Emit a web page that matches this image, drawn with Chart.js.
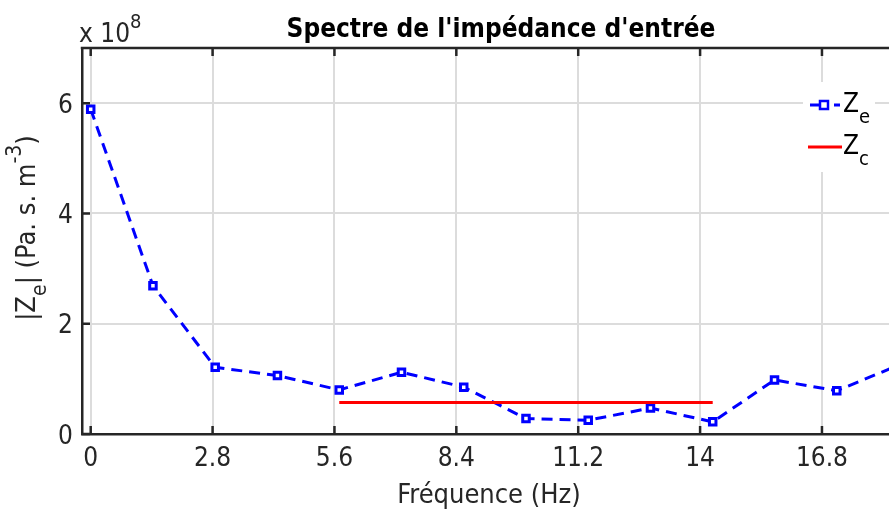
<!DOCTYPE html>
<html>
<head>
<meta charset="utf-8">
<title>Spectre de l'impédance d'entrée</title>
<script src="https://cdn.jsdelivr.net/npm/chart.js@4.4.1/dist/chart.umd.min.js"></script>
<style>
  html, body { margin: 0; padding: 0; background: #fff; overflow: hidden; }
  canvas { display: block; }
</style>
</head>
<body>
<canvas id="spectre" width="889" height="509"></canvas>
<script>
// input impedance spectrum |Ze| and the characteristic impedance Zc
const freqHz = [0, 1.43, 2.86, 4.29, 5.71, 7.14, 8.57, 10.0, 11.43, 12.86, 14.29, 15.71, 17.14, 18.57];
const zeMag  = [5.89e8, 2.69e8, 1.21e8, 1.06e8, 0.80e8, 1.12e8, 0.85e8, 0.28e8, 0.25e8, 0.47e8, 0.22e8, 0.98e8, 0.785e8, 1.25e8];
const zcFreq = [5.71, 14.29];
const zcMag  = [0.573e8, 0.573e8];
const xTicks = [0, 2.8, 5.6, 8.4, 11.2, 14, 16.8];
const yTicks = [0, 2e8, 4e8, 6e8];

const FONT = '"DejaVu Sans Condensed", "DejaVu Sans", sans-serif';
const INK = '#262626';
const BLUE = '#0000ff';
const RED = '#ff0000';

Chart.defaults.font.family = FONT;
Chart.defaults.color = INK;

// draws text with sub/superscript runs: parts = [[text, 'n'|'sub'|'sup'], ...]
function richText(ctx, parts, x, y, size, align) {
    const small = Math.round(size * 0.78);
    const fontOf = k => (k === 'n' ? size : small) + 'px ' + FONT;
    let total = 0;
    for (const [t, k] of parts) {
        ctx.font = fontOf(k);
        total += ctx.measureText(t).width;
    }
    let cx = align === 'center' ? x - total / 2 : x;
    ctx.textAlign = 'left';
    ctx.textBaseline = 'alphabetic';
    for (const [t, k] of parts) {
        ctx.font = fontOf(k);
        const dy = k === 'sub' ? size * 0.42 : k === 'sup' ? -size * 0.52 : 0;
        ctx.fillText(t, cx, y + dy);
        cx += ctx.measureText(t).width;
    }
}

const overlay = {
    id: 'overlay',
    afterDraw(chart) {
        const { ctx, chartArea: a, scales } = chart;
        ctx.save();

        // top axis line and inward ticks
        ctx.strokeStyle = INK;
        ctx.lineWidth = 2.5;
        ctx.beginPath();
        ctx.moveTo(a.left - 1.25, a.top);
        ctx.lineTo(a.right, a.top);
        for (const v of xTicks) {
            const px = scales.x.getPixelForValue(v);
            ctx.moveTo(px, a.bottom);
            ctx.lineTo(px, a.bottom - 8);
            ctx.moveTo(px, a.top);
            ctx.lineTo(px, a.top + 8);
        }
        for (const v of yTicks) {
            const py = scales.y.getPixelForValue(v);
            ctx.moveTo(a.left, py);
            ctx.lineTo(a.left + 8, py);
        }
        ctx.stroke();

        // title and exponent
        ctx.fillStyle = '#000';
        ctx.font = 'bold 26px ' + FONT;
        ctx.textAlign = 'center';
        ctx.textBaseline = 'alphabetic';
        ctx.fillText("Spectre de l'impédance d'entrée", 501, 37);

        ctx.fillStyle = INK;
        richText(ctx, [['x 10', 'n'], ['8', 'sup']], 79, 42, 26, 'left');

        // axis titles
        ctx.font = '27px ' + FONT;
        ctx.textAlign = 'center';
        ctx.fillText('Fréquence (Hz)', 489, 503);

        ctx.save();
        ctx.translate(35, 228);
        ctx.rotate(-Math.PI / 2);
        richText(ctx, [['|Z', 'n'], ['e', 'sub'], ['| (Pa. s. m', 'n'], ['-3', 'sup'], [')', 'n']], 0, 0, 27, 'center');
        ctx.restore();

        // legend
        ctx.fillStyle = '#fff';
        ctx.fillRect(803, 82, 72, 90);

        ctx.strokeStyle = BLUE;
        ctx.lineWidth = 3;
        ctx.beginPath();
        ctx.moveTo(810, 105); ctx.lineTo(828, 105);
        ctx.moveTo(834, 105); ctx.lineTo(840, 105);
        ctx.stroke();
        ctx.lineWidth = 2.5;
        ctx.fillStyle = '#fff';
        ctx.fillRect(820, 101, 8, 8);
        ctx.strokeRect(820, 101, 8, 8);

        ctx.strokeStyle = RED;
        ctx.lineWidth = 3;
        ctx.beginPath();
        ctx.moveTo(808, 147); ctx.lineTo(842, 147);
        ctx.stroke();

        ctx.fillStyle = '#000';
        richText(ctx, [['Z', 'n'], ['e', 'sub']], 843, 112, 26, 'left');
        richText(ctx, [['Z', 'n'], ['c', 'sub']], 843, 154, 26, 'left');

        ctx.restore();
    }
};

new Chart(document.getElementById('spectre'), {
    type: 'line',
    data: {
        datasets: [
            {
                label: 'Ze',
                data: freqHz.map((f, i) => ({ x: f, y: zeMag[i] })),
                borderColor: BLUE,
                borderWidth: 3,
                borderDash: [11, 7],
                pointStyle: 'rect',
                pointRadius: 4.6,
                pointBorderWidth: 3,
                pointBorderColor: BLUE,
                pointBackgroundColor: '#fff',
                tension: 0,
                order: 1
            },
            {
                label: 'Zc',
                data: zcFreq.map((f, i) => ({ x: f, y: zcMag[i] })),
                borderColor: RED,
                borderWidth: 3,
                pointRadius: 0,
                tension: 0,
                order: 0
            }
        ]
    },
    options: {
        responsive: false,
        animation: false,
        events: [],
        layout: { autoPadding: false, padding: { top: 48, left: 0, right: 0, bottom: 0 } },
        plugins: {
            legend: { display: false },
            title: { display: false },
            tooltip: { enabled: false }
        },
        scales: {
            x: {
                type: 'linear',
                min: -0.2,
                max: 18.34,
                afterBuildTicks: s => { s.ticks = xTicks.map(v => ({ value: v })); },
                // fixed height, and no extra side padding so the plot runs to the right edge
                afterFit: s => { s.height = 75; s.paddingLeft = 0; s.paddingRight = 0; },
                ticks: {
                    autoSkip: false,
                    maxRotation: 0,
                    padding: 10,
                    font: { size: 26 },
                    color: INK,
                    callback: v => String(v)
                },
                grid: { color: '#dcdcdc', lineWidth: 2, drawTicks: false },
                border: { display: true, color: INK, width: 2.5 }
            },
            y: {
                type: 'linear',
                min: 0,
                max: 7e8,
                afterBuildTicks: s => { s.ticks = yTicks.map(v => ({ value: v })); },
                afterFit: s => { s.width = 82; },
                ticks: {
                    autoSkip: false,
                    padding: 9,
                    labelOffset: 3,
                    font: { size: 26 },
                    color: INK,
                    callback: v => String(v / 1e8)
                },
                grid: { color: '#dcdcdc', lineWidth: 2, drawTicks: false },
                border: { display: true, color: INK, width: 2.5 }
            }
        }
    },
    plugins: [overlay]
});
</script>
</body>
</html>
